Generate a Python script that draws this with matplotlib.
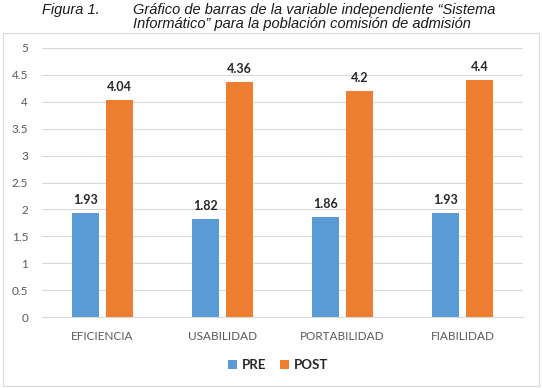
import numpy as np
import matplotlib
matplotlib.use("Agg")
import matplotlib.pyplot as plt
from matplotlib.patches import Rectangle

categories = ["EFICIENCIA", "USABILIDAD", "PORTABILIDAD", "FIABILIDAD"]
pre = [1.93, 1.82, 1.86, 1.93]
post = [4.04, 4.36, 4.2, 4.4]
pre_labels = ["1.93", "1.82", "1.86", "1.93"]
post_labels = ["4.04", "4.36", "4.2", "4.4"]

blue = "#5b9bd5"
orange = "#ed7d31"
grey_text = "#595959"

plt.rcParams["font.family"] = ["Lato", "DejaVu Sans"]

fig = plt.figure(figsize=(5.43, 3.88), dpi=100)
W, H = 543.0, 388.0

# chart border
fig.patches.append(Rectangle((3 / W, 2 / H), 536 / W, (353) / H,
                             transform=fig.transFigure, fill=False,
                             edgecolor="#d9d9d9", linewidth=0.8))

ax = fig.add_axes([42 / W, (H - 317) / H, 481 / W, 269 / H])

x = np.arange(len(categories))
width = 0.225
off = 0.142
b1 = ax.bar(x - off, pre, width, color=blue, label="PRE", zorder=3)
b2 = ax.bar(x + off, post, width, color=orange, label="POST", zorder=3)

for bars, labels in ((b1, pre_labels), (b2, post_labels)):
    for rect, txt in zip(bars, labels):
        ax.annotate(txt, (rect.get_x() + rect.get_width() / 2, rect.get_height()),
                    xytext=(0, 5), textcoords="offset points", ha="center",
                    va="bottom", fontsize=9, fontweight="bold", color="#262626")

ax.set_xlim(-0.5, len(categories) - 0.5)
ax.set_ylim(0, 5)
ax.set_yticks(np.arange(0, 5.01, 0.5))
ax.set_yticklabels(["0", "0.5", "1", "1.5", "2", "2.5", "3", "3.5", "4", "4.5", "5"])
ax.set_xticks(x)
ax.set_xticklabels(categories)
ax.tick_params(axis="both", length=0, colors=grey_text, labelsize=8.5)
ax.tick_params(axis="x", pad=10)
ax.tick_params(axis="y", pad=10)
ax.grid(axis="y", color="#d9d9d9", linewidth=0.8, zorder=0)
for s in ["top", "right", "left"]:
    ax.spines[s].set_visible(False)
ax.spines["bottom"].set_color("#d9d9d9")

leg = fig.legend(handles=[b1, b2], loc="center", bbox_to_anchor=(278 / W, (H - 365) / H),
                 ncol=2, frameon=False, handlelength=0.7,
                 handleheight=0.7, handletextpad=0.4, columnspacing=1.0,
                 prop={"weight": "bold", "size": 9.5})
for t in leg.get_texts():
    t.set_color("#262626")

title_kw = dict(fontsize=10.5, style="italic", family="Liberation Sans",
                va="center", ha="left", color="#1a1a1a")
fig.text(42 / W, (H - 10) / H, "Figura 1.", **title_kw)
fig.text(133 / W, (H - 10) / H,
         "Gráfico de barras de la variable independiente \u201cSistema", **title_kw)
fig.text(133 / W, (H - 24) / H,
         "Informático\u201d para la población comisión de admisión", **title_kw)

fig.savefig("out.png", dpi=100)
